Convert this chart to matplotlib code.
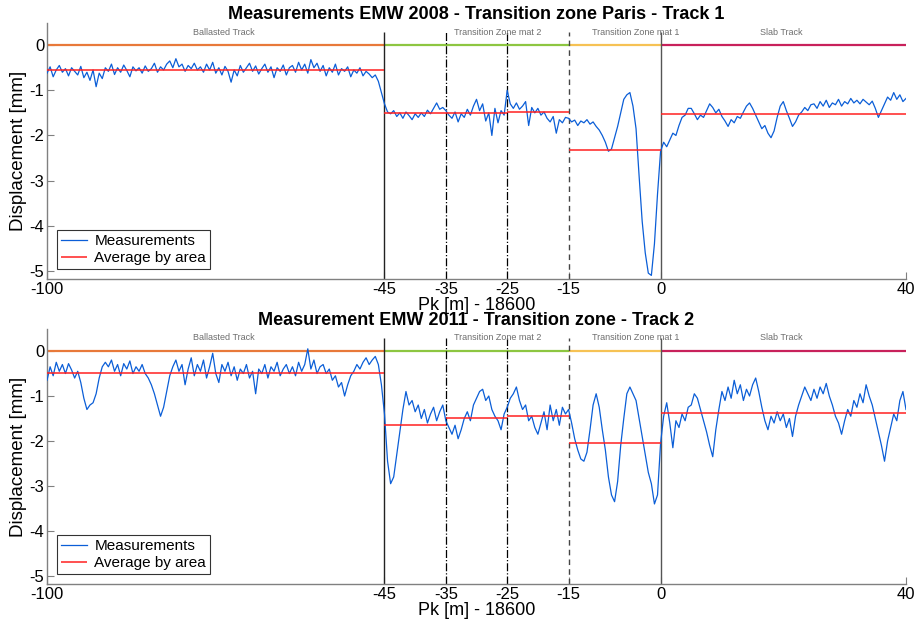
import numpy as np
import matplotlib.pyplot as plt

plt.rcParams['font.family'] = ['Liberation Sans', 'DejaVu Sans']
plt.rcParams['axes.unicode_minus'] = False

# Zonas y medias por zona
zone_edges = [-100, -45, -15, 0, 40]
zone_names = ['Ballasted Track', 'Transition Zone mat 2', 'Transition Zone mat 1', 'Slab Track']
avg_edges = [-100, -45, -35, -25, -15, 0, 40]
avg_2008 = [-0.56, -1.50, -1.50, -1.49, -2.33, -1.53]
avg_2011 = [-0.49, -1.65, -1.48, -1.44, -2.04, -1.37]
xticks = [-100, -45, -35, -25, -15, 0, 40]

# Medidas EMW 2008, Pk -100 .. 40 cada 0.5 m
meas_2008 = [
    # -100 .. -45.5
    -0.62, -0.48, -0.70, -0.55, -0.45, -0.60, -0.52, -0.68, -0.50, -0.58,
    -0.66, -0.47, -0.72, -0.60, -0.78, -0.55, -0.92, -0.62, -0.74, -0.50,
    -0.58, -0.42, -0.65, -0.50, -0.60, -0.44, -0.56, -0.70, -0.48, -0.57,
    -0.50, -0.62, -0.46, -0.58, -0.52, -0.40, -0.60, -0.48, -0.55, -0.42,
    -0.35, -0.50, -0.30, -0.48, -0.42, -0.58, -0.45, -0.52, -0.40, -0.55,
    -0.48, -0.60, -0.42, -0.55, -0.38, -0.62, -0.50, -0.66, -0.47, -0.58,
    -0.82, -0.55, -0.68, -0.45, -0.60, -0.50, -0.40, -0.58, -0.46, -0.64,
    -0.52, -0.42, -0.60, -0.48, -0.72, -0.50, -0.58, -0.44, -0.66, -0.50,
    -0.45, -0.60, -0.38, -0.55, -0.42, -0.62, -0.32, -0.50, -0.40, -0.58,
    -0.45, -0.68, -0.50, -0.60, -0.42, -0.66, -0.52, -0.58, -0.48, -0.70,
    -0.55, -0.62, -0.50, -0.68, -0.58, -0.64, -0.72, -0.66, -0.80, -1.05,
    # -45 .. -35.5
    -1.30, -1.48, -1.52, -1.45, -1.58, -1.50, -1.62, -1.48, -1.56, -1.65,
    -1.52, -1.60, -1.50, -1.58, -1.44, -1.52, -1.40, -1.28, -1.42, -1.38,
    # -35 .. -25.5
    -1.45, -1.55, -1.62, -1.48, -1.70, -1.52, -1.60, -1.42, -1.55, -1.35,
    -1.20, -1.45, -1.30, -1.68, -1.50, -2.00, -1.40, -1.72, -1.45, -1.55,
    # -25 .. -15.5
    -1.00, -1.30, -1.40, -1.28, -1.42, -1.35, -1.25, -1.78, -1.38, -1.50,
    -1.40, -1.55, -1.48, -1.62, -1.70, -1.58, -1.95, -1.65, -1.72, -1.60,
    # -15 .. -5.5
    -1.62, -1.70, -1.66, -1.78, -1.68, -1.72, -1.65, -1.75, -1.70, -1.80,
    -1.88, -2.00, -2.15, -2.35, -2.30, -2.05, -1.80, -1.50, -1.20, -1.10,
    # -5 .. 4.5
    -1.05, -1.35, -1.85, -2.90, -3.90, -4.60, -5.05, -5.10, -4.40, -3.30,
    -2.35, -2.15, -2.25, -2.10, -1.95, -2.00, -1.78, -1.60, -1.55, -1.40,
    # 5 .. 14.5
    -1.40, -1.52, -1.65, -1.55, -1.60, -1.45, -1.30, -1.38, -1.50, -1.42,
    -1.58, -1.68, -1.80, -1.65, -1.72, -1.58, -1.62, -1.48, -1.35, -1.28,
    # 15 .. 24.5
    -1.40, -1.55, -1.70, -1.85, -1.78, -1.95, -2.05, -1.90, -1.60, -1.35,
    -1.25, -1.45, -1.62, -1.80, -1.70, -1.55, -1.48, -1.38, -1.45, -1.32,
    # 25 .. 34.5
    -1.30, -1.40, -1.25, -1.35, -1.22, -1.38, -1.28, -1.32, -1.20, -1.35,
    -1.25, -1.30, -1.18, -1.28, -1.22, -1.30, -1.20, -1.26, -1.32, -1.24,
    # 35 .. 40
    -1.40, -1.60, -1.45, -1.30, -1.15, -1.22, -1.05, -1.20, -1.10, -1.25, -1.18,
]

# Medidas EMW 2011, Pk -100 .. 40 cada 0.5 m
meas_2011 = [
    # -100 .. -45.5
    -0.65, -0.35, -0.55, -0.25, -0.45, -0.30, -0.50, -0.28, -0.42, -0.60,
    -0.45, -0.70, -1.05, -1.30, -1.20, -1.15, -0.95, -0.60, -0.35, -0.25,
    -0.35, -0.20, -0.45, -0.30, -0.55, -0.28, -0.40, -0.22, -0.50, -0.35,
    -0.45, -0.30, -0.50, -0.60, -0.75, -0.95, -1.20, -1.45, -1.25, -0.90,
    -0.55, -0.35, -0.20, -0.45, -0.30, -0.75, -0.40, -0.15, -0.55, -0.30,
    -0.45, -0.20, -0.60, -0.35, -0.05, -0.50, -0.70, -0.30, -0.45, -0.25,
    -0.55, -0.35, -0.65, -0.40, -0.50, -0.30, -0.60, -0.45, -0.95, -0.40,
    -0.50, -0.30, -0.60, -0.35, -0.45, -0.25, -0.55, -0.40, -0.30, -0.50,
    -0.35, -0.55, -0.25, -0.45, -0.30, 0.05, -0.40, -0.20, -0.50, -0.35,
    -0.30, -0.50, -0.40, -0.65, -0.55, -0.80, -0.70, -1.00, -0.75, -0.55,
    -0.45, -0.30, -0.40, -0.25, -0.15, -0.30, -0.20, -0.12, -0.30, -0.75,
    # -45 .. -35.5
    -1.40, -2.45, -2.95, -2.80, -2.30, -1.80, -1.30, -0.90, -1.20, -1.10,
    -1.35, -1.20, -1.50, -1.30, -1.60, -1.40, -1.25, -1.55, -1.35, -1.20,
    # -35 .. -25.5
    -1.55, -1.70, -1.85, -1.65, -1.95, -1.75, -1.50, -1.35, -1.55, -1.20,
    -1.05, -0.90, -0.85, -1.10, -1.00, -1.30, -1.45, -1.55, -1.75, -1.40,
    # -25 .. -15.5
    -1.25, -1.05, -0.95, -0.80, -1.10, -1.30, -1.20, -1.55, -1.45, -1.70,
    -1.85, -1.60, -1.35, -1.75, -1.20, -1.55, -1.30, -1.65, -1.25, -1.40,
    # -15 .. -5.5
    -1.30, -1.60, -1.95, -2.20, -2.40, -2.45, -2.25, -1.75, -1.20, -0.95,
    -1.25, -1.75, -2.20, -2.80, -3.20, -3.35, -2.90, -2.10, -1.50, -0.95,
    # -5 .. 4.5
    -0.80, -0.95, -1.10, -1.50, -1.90, -2.30, -2.70, -2.95, -3.40, -3.20,
    -2.05, -1.45, -1.15, -1.60, -2.15, -1.55, -1.70, -1.40, -1.55, -1.25,
    # 5 .. 14.5
    -1.20, -0.95, -1.05, -1.30, -1.55, -1.80, -2.10, -2.35, -1.75, -1.30,
    -0.90, -1.10, -0.80, -1.05, -0.65, -0.95, -0.75, -1.10, -0.85, -1.00,
    # 15 .. 24.5
    -0.75, -0.60, -0.90, -1.25, -1.55, -1.75, -1.45, -1.60, -1.35, -1.55,
    -1.40, -1.70, -1.50, -1.90, -1.45, -1.20, -1.00, -0.80, -0.95, -1.10,
    # 25 .. 34.5
    -0.85, -1.05, -0.80, -0.95, -0.72, -1.00, -1.20, -1.45, -1.60, -1.85,
    -1.55, -1.30, -1.45, -1.10, -1.25, -0.95, -1.15, -0.75, -1.00, -1.20,
    # 35 .. 40
    -1.50, -1.80, -2.10, -2.45, -2.00, -1.70, -1.40, -1.55, -1.10, -0.90, -1.30,
]

titles = ['Measurements EMW 2008 - Transition zone Paris - Track 1',
          'Measurement EMW 2011 - Transition zone - Track 2']

zone_colors = ['#e8793a', '#8dc641', '#f6c254', '#c8215b']
blue = '#0b5ed7'
ylo, yhi = -5.18, 0.49

fig = plt.figure(figsize=(9.17, 6.21), dpi=100)
ax1 = fig.add_axes([0.0513, 0.5507, 0.9367, 0.4122])
ax2 = fig.add_axes([0.0513, 0.0596, 0.9367, 0.4106])

for ax, meas, avg, title in [(ax1, meas_2008, avg_2008, titles[0]),
                             (ax2, meas_2011, avg_2011, titles[1])]:
    x = np.linspace(-100, 40, len(meas))
    ax.plot(x, meas, color=blue, lw=0.9, label='Measurements', zorder=3)
    ax.hlines(avg, avg_edges[:-1], avg_edges[1:], colors='#ff2020', lw=1.1,
              label='Average by area', zorder=4)
    # lineas de zona en y = 0
    ax.hlines([0] * 4, zone_edges[:-1], zone_edges[1:], colors=zone_colors, lw=1.6, zorder=2)
    # separadores verticales
    ax.vlines(-45, ylo, 0.3, colors='#222222', lw=1.0)
    ax.vlines([-35, -25], ylo, 0.3, colors='black', lw=0.9, linestyles='dashdot')
    ax.vlines(-15, ylo, 0.3, colors='#444444', lw=1.0, linestyles=(0, (4, 3)))
    ax.vlines(0, ylo, 0.3, colors='#555555', lw=1.0)
    for xpos, name in zip([-71.2, -26.5, -4.0, 19.6], zone_names):
        ax.text(xpos, 0.29, name, fontsize=6.5, color='#6e6e6e', ha='center', va='center')

    ax.set_xlim(-100, 40)
    ax.set_ylim(ylo, yhi)
    ax.set_xticks(xticks)
    ax.set_yticks([0, -1, -2, -3, -4, -5])
    ax.tick_params(direction='in', labelsize=12, color='#808080', length=5, pad=2)
    for s in ['top', 'right']:
        ax.spines[s].set_visible(False)
    for s in ['left', 'bottom']:
        ax.spines[s].set_color('#808080')
        ax.spines[s].set_linewidth(1.0)
    ax.set_ylabel('Displacement [mm]', fontsize=13.5, labelpad=2)
    ax.set_xlabel('Pk [m] - 18600', fontsize=13, labelpad=0)
    ax.set_title(title, fontsize=13, fontweight='bold', pad=1)
    leg = ax.legend(loc='lower left', fontsize=11, frameon=True, fancybox=False,
                    borderpad=0.25, handlelength=1.7, handletextpad=0.5,
                    labelspacing=0.2, borderaxespad=0,
                    bbox_to_anchor=(0.0116, 0.04))
    leg.get_frame().set_edgecolor('black')
    leg.get_frame().set_linewidth(0.8)

fig.savefig('out.png', dpi=100)
